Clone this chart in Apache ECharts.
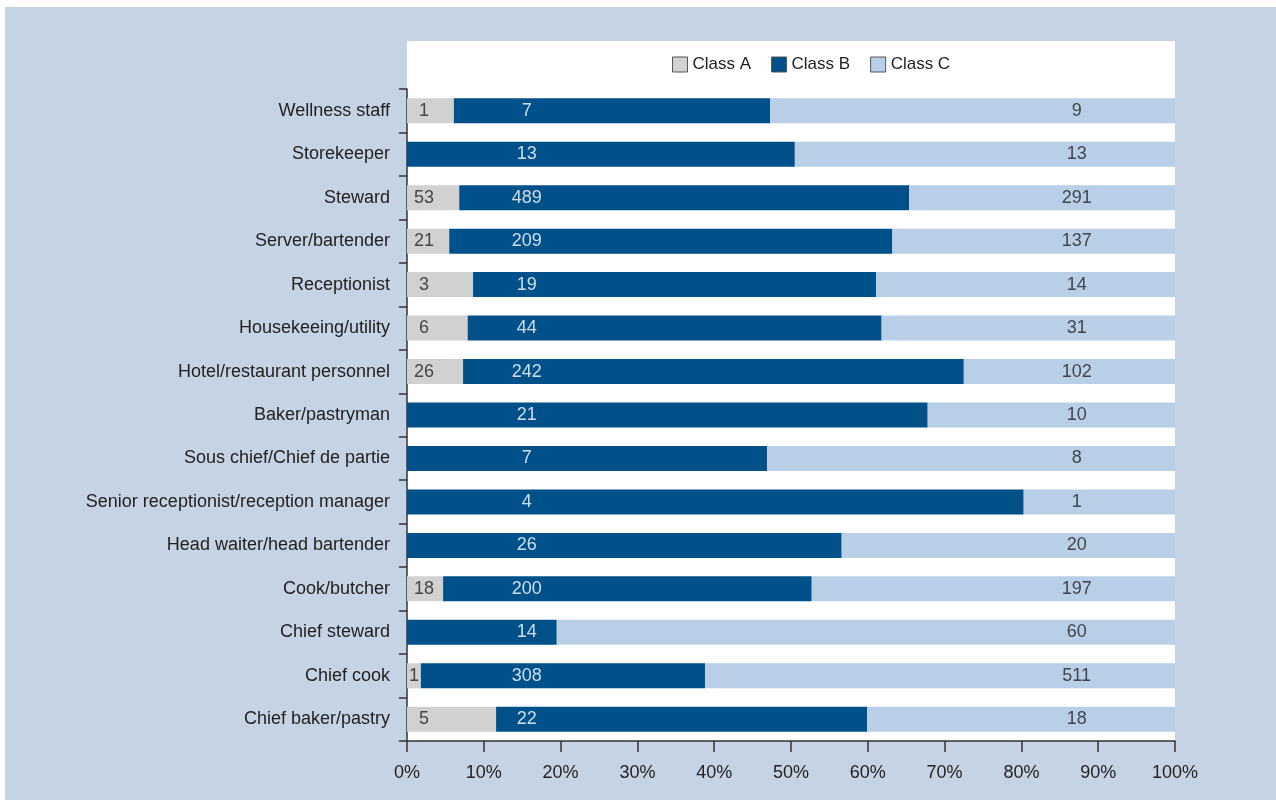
<!DOCTYPE html>
<html>
<head>
<meta charset="utf-8">
<style>
  html, body { margin: 0; padding: 0; background: #fff; }
  #chart { width: 1276px; height: 800px; }
</style>
<script src="https://cdn.jsdelivr.net/npm/echarts@6/dist/echarts.min.js"></script>
</head>
<body>
<div id="chart"></div>
<script>
// categories, top to bottom
const categories = [
  'Wellness staff',
  'Storekeeper',
  'Steward',
  'Server/bartender',
  'Receptionist',
  'Housekeeing/utility',
  'Hotel/restaurant personnel',
  'Baker/pastryman',
  'Sous chief/Chief de partie',
  'Senior receptionist/reception manager',
  'Head waiter/head bartender',
  'Cook/butcher',
  'Chief steward',
  'Chief cook',
  'Chief baker/pastry'
]
// bar shares (%)
const shareA = [6.1, 0, 6.8, 5.5, 8.6, 7.9, 7.3, 0, 0, 0, 0, 4.7, 0, 1.8, 11.6]
const shareB = [41.2, 50.5, 58.6, 57.7, 52.5, 53.9, 65.2, 67.8, 46.9, 80.3, 56.6, 48.0, 19.5, 37.0, 48.3]
const shareC = [52.7, 49.5, 34.6, 36.8, 38.9, 38.2, 27.5, 32.2, 53.1, 19.7, 43.4, 47.3, 80.5, 61.2, 40.1]
// counts printed on the bars
const countA = [1, null, 53, 21, 3, 6, 26, null, null, null, null, 18, null, 1, 5]
const countB = [7, 13, 489, 209, 19, 44, 242, 21, 7, 4, 26, 200, 14, 308, 22]
const countC = [9, 13, 291, 137, 14, 31, 102, 10, 8, 1, 20, 197, 60, 511, 18]
// x ticks
const tickValues = [0, 10, 20, 30, 40, 50, 60, 70, 80, 90, 100]

const colors = { A: '#d1d1d1', B: '#00508a', C: '#b9cfe8' }
const textColor = '#222222'
const font = 'Liberation Sans, Arial, sans-serif'

const chart = echarts.init(document.getElementById('chart'))

// label columns sit at fixed places across the plot
// (a very thin Class A segment keeps its label inside the segment)
const labelSeries = (name, counts, at, color, fit) => ({
  name: name,
  type: 'scatter',
  silent: true,
  symbolSize: 0,
  z: 5,
  data: counts.map((c, i) => {
    if (c == null) return null
    const x = fit ? Math.min(at, fit[i] / 2) : at
    return [x, categories[i], c]
  }),
  label: {
    show: true,
    position: 'inside',
    color: color,
    fontSize: 18,
    fontFamily: font,
    formatter: (p) => String(p.data[2])
  },
  tooltip: { show: false }
})

const barSeries = (name, data, color) => ({
  name: name,
  type: 'bar',
  stack: 'total',
  barWidth: 25,
  data: data,
  itemStyle: { color: color },
  emphasis: { disabled: true }
})

const option = {
  backgroundColor: '#ffffff',
  animation: false,
  graphic: [
    {
      type: 'rect',
      z: -10,
      shape: { x: 5, y: 7, width: 1271, height: 793 },
      style: { fill: '#c5d3e4' }
    },
    {
      type: 'rect',
      z: -9,
      shape: { x: 407, y: 41, width: 768, height: 700 },
      style: { fill: '#ffffff' }
    }
  ],
  legend: {
    data: ['Class A', 'Class B', 'Class C'],
    left: 667,
    top: 51,
    itemWidth: 15,
    itemHeight: 15,
    itemGap: 20,
    icon: 'rect',
    itemStyle: { borderColor: '#555', borderWidth: 1 },
    textStyle: { color: textColor, fontSize: 17, fontFamily: font }
  },
  grid: {
    left: 407,
    right: 101,
    top: 89,
    bottom: 59,
    containLabel: false
  },
  xAxis: {
    type: 'value',
    min: 0,
    max: 100,
    interval: 10,
    axisLine: { show: true, lineStyle: { color: '#333', width: 1.5 } },
    axisTick: { show: true, length: 11, lineStyle: { color: '#333', width: 1.5 } },
    splitLine: { show: false },
    axisLabel: {
      margin: 23,
      color: textColor,
      fontSize: 18,
      fontFamily: font,
      formatter: (v) => (tickValues.includes(v) ? v + '%' : '')
    }
  },
  yAxis: {
    type: 'category',
    inverse: true,
    data: categories,
    axisLine: { show: true, lineStyle: { color: '#333', width: 1.5 } },
    axisTick: { show: true, length: 8, lineStyle: { color: '#333', width: 1.5 } },
    axisLabel: {
      margin: 17,
      color: textColor,
      fontSize: 18,
      fontFamily: font
    }
  },
  series: [
    barSeries('Class A', shareA, colors.A),
    barSeries('Class B', shareB, colors.B),
    barSeries('Class C', shareC, colors.C),
    labelSeries('labelA', countA, 2.2, textColor, shareA),
    labelSeries('labelB', countB, 15.6, '#ffffff'),
    labelSeries('labelC', countC, 87.2, textColor)
  ]
}

chart.setOption(option)
</script>
</body>
</html>
